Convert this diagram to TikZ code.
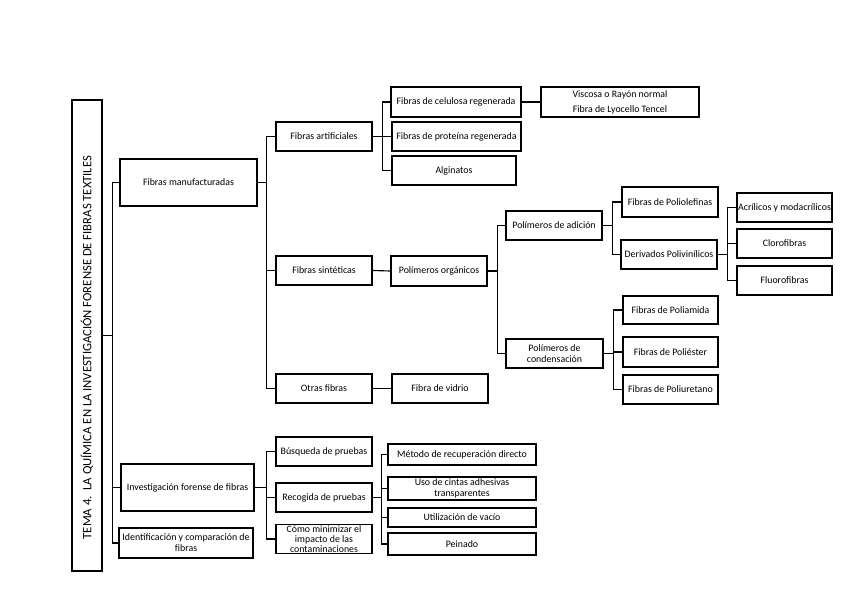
\documentclass[tikz,border=0pt]{standalone}
\usepackage{fontspec}
\setmainfont{Carlito}

\begin{document}
\begin{tikzpicture}[x=0.75pt,y=0.75pt,yscale=-1,xscale=1,
	caja/.style={draw=black,line width=1pt,inner sep=0.5pt,align=center,font=\fontsize{7.4}{8.2}\selectfont},
	tam/.style 2 args={minimum width=#1*0.75pt,minimum height=#2*0.75pt},
	enlace/.style={draw=black,line width=0.85pt}]
			\useasboundingbox (0,0) rectangle (848,599);
			
			\node[caja,tam={471}{30},rotate=90,font=\fontsize{9.5}{10}\selectfont] (tema) at (87,335.5) {TEMA 4.\ \ LA QUÍMICA EN LA INVESTIGACIÓN FORENSE DE FIBRAS TEXTILES\hspace*{18pt}};
			
			\node[caja,tam={137}{47}] (manuf) at (188.5,182.5) {Fibras manufacturadas};
			\node[caja,tam={133}{47}] (inv) at (187.5,487.5) {Investigación forense de fibras};
			\node[caja,tam={134}{30}] (ident) at (186,543) {Identificación y comparación de\\fibras};
			
			\node[caja,tam={96}{29}] (artif) at (324,136.5) {Fibras artificiales};
			\node[caja,tam={96}{29}] (sint) at (324,270.5) {Fibras sintéticas};
			\node[caja,tam={96}{29}] (otras) at (324,388.5) {Otras fibras};
			\node[caja,tam={96}{29}] (busq) at (324,451.5) {Búsqueda de pruebas};
			\node[caja,tam={96}{29}] (recog) at (324,497.5) {Recogida de pruebas};
			\node[caja,tam={96}{28},font=\fontsize{7.4}{7.6}\selectfont] (como) at (324,539) {Cómo minimizar el\\impacto de las\\contaminaciones};
			
			\node[caja,tam={130}{30}] (celul) at (456,102) {Fibras de celulosa regenerada};
			\node[caja,tam={129}{29}] (prot) at (456.5,136.5) {Fibras de proteína regenerada};
			\node[caja,tam={124}{29}] (algin) at (454,170.5) {Alginatos};
			\node[caja,tam={158}{30}] (visc) at (620,102) {Viscosa o Rayón normal\\[3pt]Fibra de Lyocello Tencel};
			
			\node[caja,tam={96}{30}] (organ) at (439,271) {Polímeros orgánicos};
			\node[caja,tam={96}{29}] (vidrio) at (440,388.5) {Fibra de vidrio};
			\node[caja,tam={96}{29}] (adic) at (554,225.5) {Polímeros de adición};
			\node[caja,tam={97}{29}] (conde) at (554.5,353.5) {Polímeros de\\condensación};
			
			\node[caja,tam={96}{30}] (poliol) at (670,202) {Fibras de Poliolefinas};
			\node[caja,tam={96}{29}] (deriv) at (669,254.5) {Derivados Polivinílicos};
			\node[caja,tam={95}{29}] (acril) at (784.5,207.5) {Acrílicos y modacrílicos};
			\node[caja,tam={95}{29}] (cloro) at (784.5,243.5) {Clorofibras};
			\node[caja,tam={95}{29}] (fluor) at (784.5,280.5) {Fluorofibras};
			\node[caja,tam={95}{28}] (poliam) at (670.5,310) {Fibras de Poliamida};
			\node[caja,tam={95}{30}] (polies) at (670.5,352) {Fibras de Poliéster};
			\node[caja,tam={95}{29}] (poliur) at (670.5,389.5) {Fibras de Poliuretano};
			
			\node[caja,tam={148}{21}] (metodo) at (462,454.5) {Método de recuperación directo};
			\node[caja,tam={148}{23}] (cintas) at (462,488.5) {Uso de cintas adhesivas\\transparentes};
			\node[caja,tam={148}{19}] (utiliz) at (462,517.5) {Utilización de vacío};
			\node[caja,tam={148}{22}] (peinado) at (462,544) {Peinado};
			
			
			\draw[enlace] (tema.south) -- ++(10,0) |- (manuf.west);
			\draw[enlace] (tema.south) -- ++(10,0) |- (inv.west);
			\draw[enlace] (tema.south) -- ++(10,0) |- (ident.west);
			\draw[enlace] (manuf.east) -- ++(9,0) |- (artif.west);
			\draw[enlace] (manuf.east) -- ++(9,0) |- (sint.west);
			\draw[enlace] (manuf.east) -- ++(9,0) |- (otras.west);
			\draw[enlace] (artif.east) -- ++(10,0) |- (celul.west);
			\draw[enlace] (artif.east) -- ++(10,0) |- (prot.west);
			\draw[enlace] (artif.east) -- ++(10,0) |- (algin.west);
			\draw[enlace] (celul.east) -- (visc.west);
			\draw[enlace] (sint.east) -- (organ.west);
			\draw[enlace] (otras.east) -- (vidrio.west);
			\draw[enlace] (organ.east) -- ++(10,0) |- (adic.west);
			\draw[enlace] (organ.east) -- ++(10,0) |- (conde.west);
			\draw[enlace] (adic.east) -- ++(10,0) |- (poliol.west);
			\draw[enlace] (adic.east) -- ++(10,0) |- (deriv.west);
			\draw[enlace] (deriv.east) -- ++(10,0) |- (acril.west);
			\draw[enlace] (deriv.east) -- ++(10,0) |- (cloro.west);
			\draw[enlace] (deriv.east) -- ++(10,0) |- (fluor.west);
			\draw[enlace] (conde.east) -- ++(10,0) |- (poliam.west);
			\draw[enlace] (conde.east) -- ++(10,0) |- (polies.west);
			\draw[enlace] (conde.east) -- ++(10,0) |- (poliur.west);
			\draw[enlace] (inv.east) -- ++(12,0) |- (busq.west);
			\draw[enlace] (inv.east) -- ++(12,0) |- (recog.west);
			\draw[enlace] (inv.east) -- ++(12,0) |- (como.west);
			\draw[enlace] (recog.east) -- ++(9,0) |- (metodo.west);
			\draw[enlace] (recog.east) -- ++(9,0) |- (cintas.west);
			\draw[enlace] (recog.east) -- ++(9,0) |- (utiliz.west);
			\draw[enlace] (recog.east) -- ++(9,0) |- (peinado.west);
			\end{tikzpicture}
\end{document}
